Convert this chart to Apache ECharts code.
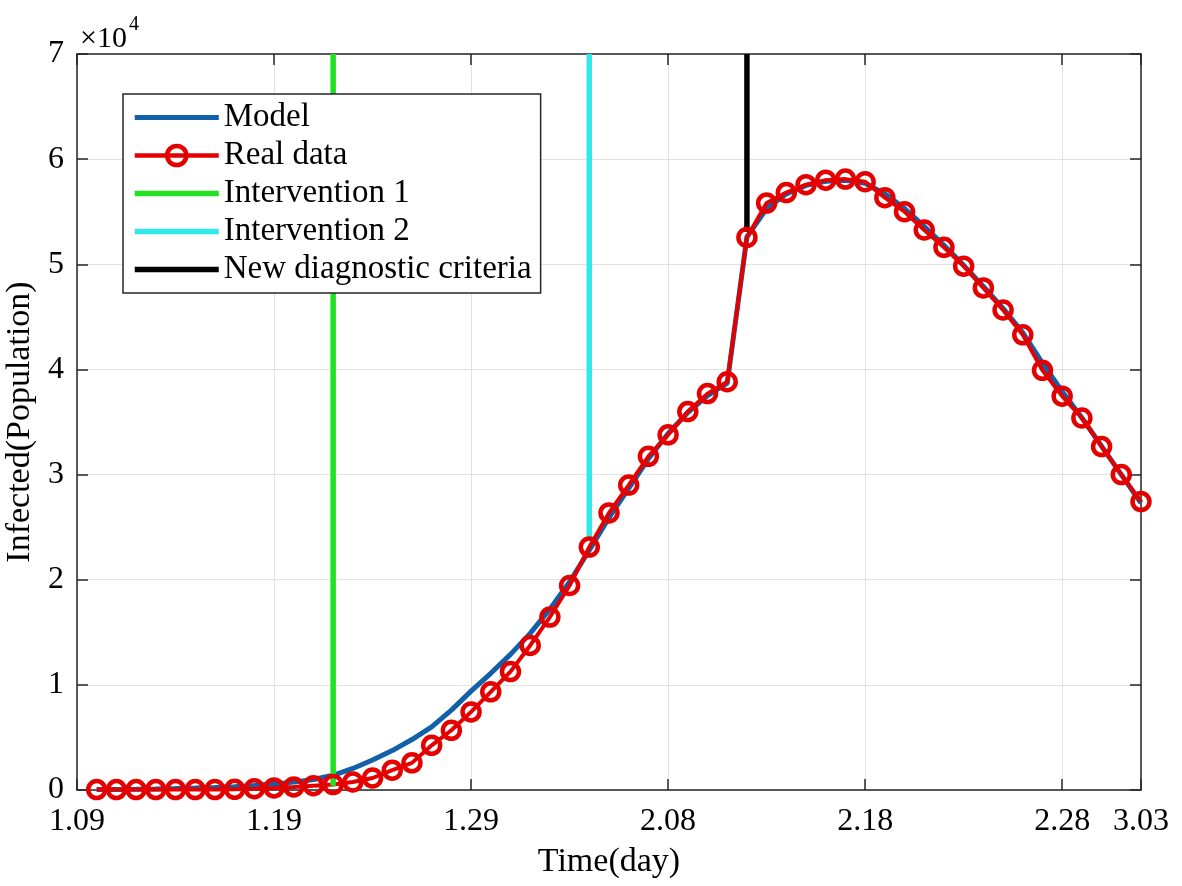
<!DOCTYPE html>
<html>
<head>
<meta charset="utf-8">
<script src="https://cdn.jsdelivr.net/npm/echarts@6/dist/echarts.min.js"></script>
<style>
html,body{margin:0;padding:0;background:#fff;}
#c{width:1182px;height:886px;}
</style>
</head>
<body>
<div id="c"></div>
<script>
// ---- data ----
const tickDays   = [0, 10, 20, 30, 40, 50, 54];
const tickLabels = ['1.09', '1.19', '1.29', '2.08', '2.18', '2.28', '3.03'];

const dayIndex = [1,2,3,4,5,6,7,8,9,10,11,12,13,14,15,16,17,18,19,20,21,22,23,24,25,26,27,
                  28,29,30,31,32,33,34,35,36,37,38,39,40,41,42,43,44,45,46,47,48,49,50,51,52,53,54];

const realData = [41,41,41,41,41,41,45,62,121,198,291,410,520,760,1140,1880,2580,4250,5680,7430,
                  9340,11260,13750,16450,19450,23100,26350,29000,31740,33780,35990,37700,38830,
                  52550,55820,56820,57570,58000,58100,57850,56340,55000,53260,51610,49820,47750,
                  45650,43290,39910,37460,35380,32660,30000,27430];

const modelData = [40,55,75,100,135,180,240,320,430,570,750,1000,1400,2050,2850,3750,4800,6000,
                   7600,9400,11100,12900,14900,17200,19800,22800,25900,28700,31500,33900,35900,
                   37500,38700,52600,55300,56700,57500,57900,58000,57700,56700,55300,53600,51800,
                   49900,47900,45800,43500,40600,37900,35400,32700,30000,27300];

const interventionNames = ['Intervention 1', 'Intervention 2', 'New diagnostic criteria'];
const interventionDays  = [13, 26, 34];
const interventionLow   = [400, 23800, 53100];
const interventionHigh  = 70000;
const interventionColors = ['#22e022', '#33e8e8', '#000000'];

const yTicks = [0, 1, 2, 3, 4, 5, 6, 7];

// ---- chart ----
const FONT = 'Liberation Serif, "Times New Roman", serif';
const AX = '#262626';
const MODEL_C = '#1160a8', REAL_C = '#e50000';

function pairs(xs, ys) { return ys.map((v, i) => [xs[i], v]); }

const series = [
  {
    name: 'Model', type: 'line', data: pairs(dayIndex, modelData),
    symbol: 'none', z: 2, clip: false,
    lineStyle: { color: MODEL_C, width: 5 },
    itemStyle: { color: 'rgba(0,0,0,0)' },
    emphasis: { disabled: true }
  },
  {
    name: 'Real data', type: 'line', data: pairs(dayIndex, realData),
    symbol: 'circle', symbolSize: 17, showAllSymbol: true, z: 3, clip: false,
    lineStyle: { color: REAL_C, width: 4 },
    itemStyle: { color: 'rgba(0,0,0,0)', borderColor: REAL_C, borderWidth: 4.5 },
    emphasis: { disabled: true }
  }
];
interventionNames.forEach((n, i) => {
  series.push({
    name: n, type: 'line', z: 3, clip: false,
    data: [[interventionDays[i], interventionLow[i]], [interventionDays[i], interventionHigh]],
    symbol: 'none',
    lineStyle: { color: interventionColors[i], width: 5.5 },
    itemStyle: { color: 'rgba(0,0,0,0)' },
    emphasis: { disabled: true }
  });
});

const axisCommonX = { type: 'value', min: 0, max: 54, interval: 10 };

const option = {
  animation: false,
  backgroundColor: '#fff',
  grid: { left: 77, right: 41, top: 54, bottom: 96, containLabel: false, outerBoundsMode: 'none' },
  legend: {
    z: 20, zlevel: 0,
    orient: 'vertical', left: 123, top: 94,
    backgroundColor: '#fff', borderColor: AX, borderWidth: 1.5, borderRadius: 0,
    padding: [7, 9, 7, 9],
    itemWidth: 84, itemHeight: 24, itemGap: 5,
    selectedMode: false,
    textStyle: { fontFamily: FONT, fontSize: 33, color: '#000', lineHeight: 33 },
    data: [
      { name: 'Model', itemStyle: { opacity: 0 }, lineStyle: { color: MODEL_C, width: 5 } },
      { name: 'Real data', itemStyle: { color: 'rgba(0,0,0,0)', borderColor: REAL_C, borderWidth: 4.5 },
        lineStyle: { color: REAL_C, width: 4.5 } },
      { name: 'Intervention 1', itemStyle: { opacity: 0 }, lineStyle: { color: interventionColors[0], width: 5.5 } },
      { name: 'Intervention 2', itemStyle: { opacity: 0 }, lineStyle: { color: interventionColors[1], width: 5.5 } },
      { name: 'New diagnostic criteria', itemStyle: { opacity: 0 }, lineStyle: { color: interventionColors[2], width: 5.5 } }
    ]
  },
  xAxis: [
    Object.assign({}, axisCommonX, {
      position: 'bottom',
      name: 'Time(day)', nameLocation: 'middle', nameGap: 55,
      nameTextStyle: { fontFamily: FONT, fontSize: 34, color: '#000' },
      axisLine: { show: true, lineStyle: { color: AX, width: 1.5 } },
      axisTick: { show: true, inside: true, length: 11, lineStyle: { color: AX, width: 1.5 } },
      axisLabel: {
        fontFamily: FONT, fontSize: 32, color: '#000', margin: 16,
        showMinLabel: true, showMaxLabel: true,
        formatter: v => { const k = tickDays.indexOf(v); return k >= 0 ? tickLabels[k] : ''; }
      },
      splitLine: { show: true, lineStyle: { color: '#e2e2e2', width: 1 } }
    }),
    Object.assign({}, axisCommonX, {
      position: 'top',
      axisLine: { show: true, onZero: false, lineStyle: { color: AX, width: 1.5 } },
      axisTick: { show: true, inside: true, length: 11, lineStyle: { color: AX, width: 1.5 } },
      axisLabel: { show: false },
      splitLine: { show: false }
    })
  ],
  yAxis: [
    {
      type: 'value', min: 0, max: 70000, interval: 10000, position: 'left',
      name: 'Infected(Population)', nameLocation: 'middle', nameGap: 38,
      nameTextStyle: { fontFamily: FONT, fontSize: 34, color: '#000' },
      axisLine: { show: true, onZero: false, lineStyle: { color: AX, width: 1.5 } },
      axisTick: { show: true, inside: true, length: 11, lineStyle: { color: AX, width: 1.5 } },
      axisLabel: {
        fontFamily: FONT, fontSize: 32, color: '#000', margin: 13,
        formatter: v => String(yTicks[Math.round(v / 10000)])
      },
      splitLine: { show: true, lineStyle: { color: '#e2e2e2', width: 1 } }
    },
    {
      type: 'value', min: 0, max: 70000, interval: 10000, position: 'right',
      axisLine: { show: true, onZero: false, lineStyle: { color: AX, width: 1.5 } },
      axisTick: { show: true, inside: true, length: 11, lineStyle: { color: AX, width: 1.5 } },
      axisLabel: { show: false },
      splitLine: { show: false }
    }
  ],
  graphic: [
    { type: 'text', left: 80, top: 24, style: { text: '×10', fontFamily: FONT, fontSize: 30, fill: '#000' } },
    { type: 'text', left: 129, top: 15, style: { text: '4', fontFamily: FONT, fontSize: 20, fill: '#000' } }
  ],
  series: series
};

const chart = echarts.init(document.getElementById('c'), null, { renderer: 'canvas' });
chart.setOption(option);
</script>
</body>
</html>
